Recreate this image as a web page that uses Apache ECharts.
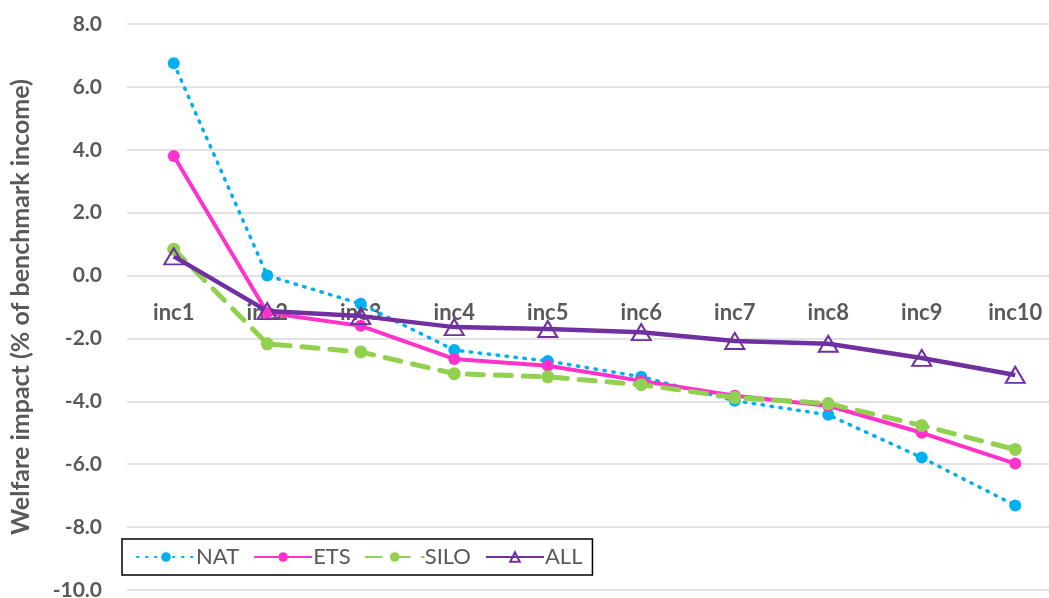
<!DOCTYPE html>
<html>
<head>
<meta charset="utf-8">
<script src="https://cdn.jsdelivr.net/npm/echarts@6/dist/echarts.min.js"></script>
<style>
  html, body { margin: 0; padding: 0; background: #fff; }
  #chart { width: 1049px; height: 598px; }
</style>
</head>
<body>
<div id="chart"></div>
<script>
const categories = ['inc1', 'inc2', 'inc3', 'inc4', 'inc5', 'inc6', 'inc7', 'inc8', 'inc9', 'inc10'];
const nat = [6.75, 0.0, -0.9, -2.37, -2.72, -3.22, -3.98, -4.43, -5.79, -7.31];
const ets = [3.8, -1.18, -1.6, -2.65, -2.87, -3.35, -3.82, -4.14, -5.0, -5.98];
const silo = [0.84, -2.17, -2.43, -3.12, -3.22, -3.47, -3.88, -4.07, -4.77, -5.53];
const all = [0.61, -1.13, -1.29, -1.64, -1.7, -1.8, -2.08, -2.17, -2.62, -3.16];

const chart = echarts.init(document.getElementById('chart'));
const font = 'Lato, "Open Sans", sans-serif';

// x axis sits on the 0 line: 10 of 18 units above the bottom of the grid
const gridTop = 24, gridBottom = 8, gridH = 598 - gridTop - gridBottom;

const options = {
  animation: false,
  grid: { left: 127, right: -13, top: gridTop, bottom: gridBottom, outerBoundsMode: 'none' },
  legend: {
    left: 122,
    top: 539,
    orient: 'horizontal',
    borderColor: '#000',
    borderWidth: 1.5,
    padding: [7, 10, 7, 14],
    itemWidth: 58,
    itemHeight: 12,
    itemGap: 14,
    textStyle: { fontFamily: font, fontSize: 22, color: '#595959', padding: [0, 0, 0, -4] },
    data: ['NAT', 'ETS', 'SILO', 'ALL']
  },
  xAxis: {
    type: 'category',
    data: categories,
    position: 'bottom',
    offset: -gridH * 10 / 18,
    axisLine: { show: false, onZero: false },
    axisTick: { show: false },
    axisLabel: {
      margin: 26,
      fontFamily: font,
      fontSize: 22,
      fontWeight: 'bold',
      color: '#595959'
    }
  },
  yAxis: {
    type: 'value',
    min: -10,
    max: 8,
    interval: 2,
    name: 'Welfare impact (% of benchmark income)',
    nameLocation: 'middle',
    nameGap: 94,
    nameTextStyle: { fontFamily: font, fontSize: 25, fontWeight: 'bold', color: '#595959' },
    axisLabel: {
      margin: 25,
      fontFamily: font,
      fontSize: 21,
      fontWeight: 'bold',
      color: '#595959',
      formatter: (v) => v.toFixed(1)
    },
    splitLine: { lineStyle: { color: '#d9d9d9', width: 1.5 } }
  },
  series: [
    {
      name: 'NAT',
      type: 'line',
      data: nat,
      color: '#00B0F0',
      symbol: 'circle',
      symbolSize: 12,
      lineStyle: { width: 3.5, type: [1.5, 7.5], cap: 'round' }
    },
    {
      name: 'ETS',
      type: 'line',
      data: ets,
      color: '#FF33CC',
      symbol: 'circle',
      symbolSize: 12,
      lineStyle: { width: 4 }
    },
    {
      name: 'SILO',
      type: 'line',
      data: silo,
      color: '#92D050',
      symbol: 'circle',
      symbolSize: 13,
      lineStyle: { width: 5, type: [16, 12], cap: 'round' }
    },
    {
      name: 'ALL',
      type: 'line',
      data: all,
      color: '#7030A0',
      symbol: 'triangle',
      symbolSize: [19, 16],
      itemStyle: { color: 'rgba(255,255,255,0)', borderColor: '#7030A0', borderWidth: 2 },
      lineStyle: { width: 4.5, color: '#7030A0' }
    }
  ]
};

chart.setOption(options);
</script>
</body>
</html>
